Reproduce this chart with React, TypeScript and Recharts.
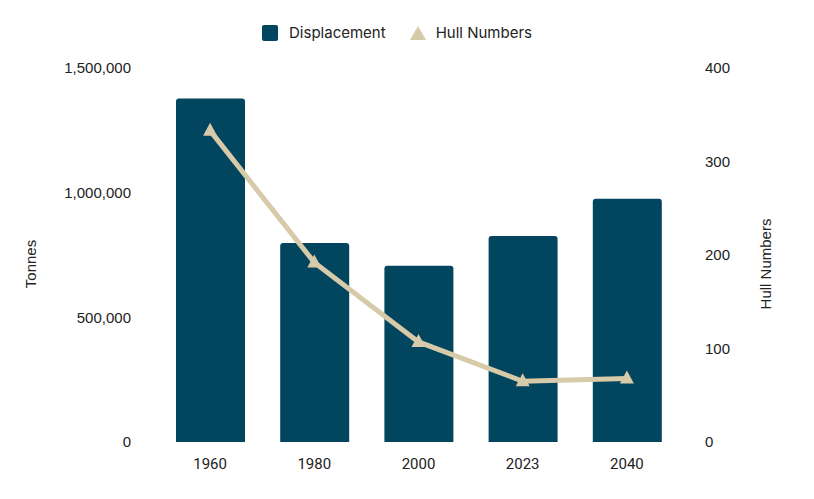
import React from 'react'
import {
  ComposedChart,
  Bar,
  Line,
  XAxis,
  YAxis,
  Legend,
} from 'recharts'

// ─── Data ────────────────────────────────────────────────────────────────────
const YEARS = ['1960', '1980', '2000', '2023', '2040']
const DISPLACEMENT = [1378000, 798000, 707000, 826000, 976000]
const HULL_NUMBERS = [333, 192, 107, 65, 68]
const TONNE_TICKS = [0, 500000, 1000000, 1500000]
const HULL_TICKS = [0, 100, 200, 300, 400]

// ─── Palette ─────────────────────────────────────────────────────────────────
const NAVY = '#02455f'
const SAND = '#d6caa9'
const TICK_COLOR = '#222222'
const SANS = 'Liberation Sans, Arial, sans-serif'

const data = YEARS.map((year, i) => ({
  year,
  displacement: DISPLACEMENT[i],
  hulls: HULL_NUMBERS[i],
}))

const fmt = (v: number) => v.toLocaleString('en-US')

function TriangleDot(props: any) {
  const { cx, cy } = props
  if (cx == null || cy == null) return null
  return (
    <polygon
      points={`${cx},${cy - 8} ${cx - 7},${cy + 5} ${cx + 7},${cy + 5}`}
      fill={SAND}
    />
  )
}

function LegendContent() {
  const text: React.CSSProperties = {
    fontFamily: 'Inter, sans-serif',
    fontSize: 15,
    color: '#222',
  }
  return (
    <div style={{ display: 'flex', justifyContent: 'center', alignItems: 'center' }}>
      <svg width={16} height={16} style={{ marginRight: 11 }}>
        <rect x={0} y={0} width={16} height={16} rx={2} fill={NAVY} />
      </svg>
      <span style={text}>Displacement</span>
      <svg width={16} height={14} style={{ marginLeft: 24, marginRight: 10 }}>
        <polygon points="8,0 0,14 16,14" fill={SAND} />
      </svg>
      <span style={text}>Hull Numbers</span>
    </div>
  )
}

function AxisTitle({ viewBox, value, offset }: any) {
  const x = viewBox.x + offset
  const y = viewBox.y + viewBox.height / 2 + 9
  return (
    <text
      x={x}
      y={y}
      transform={`rotate(-90 ${x} ${y})`}
      textAnchor="middle"
      dominantBaseline="central"
      style={{ fontFamily: SANS, fontSize: 15 }}
      fill={TICK_COLOR}
    >
      {value}
    </text>
  )
}

export default function App() {
  return (
    <div style={{ position: 'absolute', left: 0, top: 0, width: 814, height: 499, background: '#fff' }}>
      <ComposedChart
        width={814}
        height={499}
        data={data}
        margin={{ top: 68, right: 0, bottom: 27, left: 0 }}
      >
        <XAxis
          dataKey="year"
          height={30}
          axisLine={false}
          tickLine={false}
          tickMargin={10}
          tick={{ fontFamily: 'Roboto, sans-serif', fontSize: 15, fill: TICK_COLOR }}
        />
        <YAxis
          yAxisId="left"
          orientation="left"
          width={158}
          domain={[0, 1500000]}
          ticks={TONNE_TICKS}
          tickFormatter={fmt}
          axisLine={false}
          tickLine={false}
          tickMargin={21}
          tick={{ style: { fontFamily: SANS }, fontSize: 15, fill: TICK_COLOR }}
          label={(p: any) => <AxisTitle {...p} value="Tonnes" offset={30} />}
        />
        <YAxis
          yAxisId="right"
          orientation="right"
          width={135}
          domain={[0, 400]}
          ticks={HULL_TICKS}
          axisLine={false}
          tickLine={false}
          tickMargin={20}
          tick={{ style: { fontFamily: SANS }, fontSize: 15, fill: TICK_COLOR, textAnchor: 'start' }}
          label={(p: any) => <AxisTitle {...p} value="Hull Numbers" offset={86} />}
        />
        <Legend
          verticalAlign="middle"
          align="center"
          content={<LegendContent />}
          wrapperStyle={{ top: 23, left: 0, width: 794 }}
        />
        <Bar
          yAxisId="left"
          dataKey="displacement"
          name="Displacement"
          fill={NAVY}
          barSize={69}
          radius={[3, 3, 0, 0]}
          isAnimationActive={false}
        />
        <Line
          yAxisId="right"
          dataKey="hulls"
          name="Hull Numbers"
          type="linear"
          stroke={SAND}
          strokeWidth={5}
          dot={<TriangleDot />}
          activeDot={false}
          isAnimationActive={false}
        />
      </ComposedChart>
    </div>
  )
}
